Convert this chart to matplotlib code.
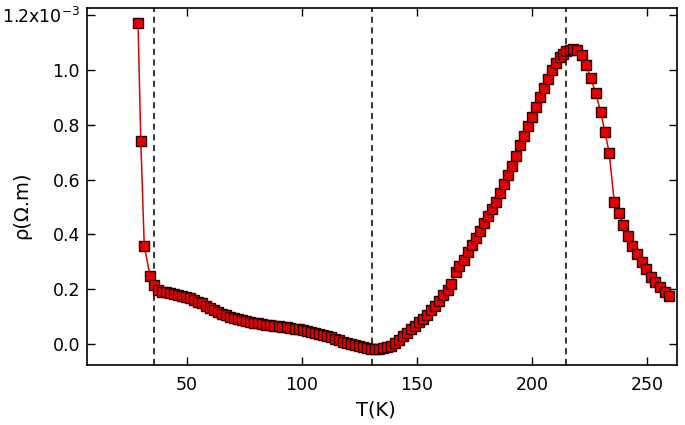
import matplotlib
matplotlib.use("Agg")
import matplotlib.pyplot as plt

plt.rcParams['font.family'] = ['DejaVu Sans']
plt.rcParams['mathtext.fontset'] = 'dejavusans'
plt.rcParams['mathtext.default'] = 'regular'

# Temperature (K)
T = [28.7, 29.9, 31.4, 33.9, 35.6,
     37.3, 39.0, 40.8, 42.5, 44.3, 46.0, 47.8, 49.5, 51.3, 53.0,
     54.8, 56.5, 58.3, 60.0, 61.8, 63.5, 65.3, 67.0, 68.8, 70.5,
     72.3, 74.0, 75.8, 77.5, 79.3, 81.0, 82.8, 84.5, 86.3, 88.0,
     89.8, 91.5, 93.3, 95.0, 96.8, 98.5, 100.3, 102.0, 103.8, 105.5,
     107.3, 109.0, 110.8, 112.5, 114.3, 116.0, 117.8, 119.5, 121.3, 123.0,
     124.8, 126.5, 128.3, 130.0, 131.8, 133.5, 135.3, 137.0, 138.8,
     140.5, 142.3, 144.0, 145.8, 147.5, 149.3, 151.0, 152.8, 154.5, 156.3,
     158.0, 159.8, 161.5, 163.3, 165.0, 166.8, 168.5, 170.3, 172.0, 173.8,
     175.5, 177.3, 179.0, 180.8, 182.5, 184.3, 186.0, 187.8, 189.5, 191.3,
     193.0, 194.8, 196.5, 198.3, 200.0, 201.8, 203.5, 205.3, 207.0, 208.8,
     210.5, 212.0, 213.5, 215.0, 216.5, 218.0, 219.5,
     221.6, 223.5, 225.7, 227.7, 229.9, 231.7, 233.6, 235.8, 237.8, 239.7,
     241.6, 243.6, 245.5, 247.7, 249.6, 251.6, 253.6, 255.7, 257.7, 259.6]

# Resistivity (x1e-3 Ohm.m)
rho = [1.173, 0.740, 0.359, 0.249, 0.215,
       0.197, 0.191, 0.188, 0.186, 0.183, 0.180, 0.176, 0.172, 0.167, 0.161,
       0.155, 0.148, 0.140, 0.132, 0.124, 0.117, 0.110, 0.104, 0.098, 0.094,
       0.092, 0.088, 0.084, 0.081, 0.078, 0.076, 0.073, 0.071, 0.069, 0.067,
       0.065, 0.063, 0.061, 0.059, 0.056, 0.054, 0.051, 0.048, 0.045, 0.041,
       0.037, 0.033, 0.028, 0.024, 0.019, 0.014, 0.009, 0.004, -0.001, -0.005,
       -0.009, -0.012, -0.015, -0.017, -0.018, -0.017, -0.015, -0.012, -0.007,
       0.003, 0.016, 0.028, 0.040, 0.054, 0.067, 0.079, 0.092, 0.107, 0.123,
       0.140, 0.158, 0.177, 0.197, 0.218, 0.262, 0.285, 0.308, 0.335, 0.360,
       0.388, 0.414, 0.440, 0.468, 0.493, 0.517, 0.552, 0.585, 0.617, 0.650,
       0.685, 0.725, 0.760, 0.795, 0.828, 0.865, 0.900, 0.936, 0.968, 1.000,
       1.027, 1.048, 1.060, 1.068, 1.073, 1.075, 1.073,
       1.055, 1.018, 0.970, 0.915, 0.848, 0.775, 0.698, 0.519, 0.479, 0.434,
       0.394, 0.358, 0.327, 0.298, 0.273, 0.246, 0.225, 0.207, 0.189, 0.176]

vlines_T = [35.5, 130.5, 215.0]
xticks = [50, 100, 150, 200, 250]
yticks = [0.0, 0.2, 0.4, 0.6, 0.8, 1.0, 1.2]
ytick_labels = ['0.0', '0.2', '0.4', '0.6', '0.8', '1.0', '1.2x10$^{-3}$']

fig = plt.figure(figsize=(6.85, 4.25), dpi=100)
ax = fig.add_axes([0.127, 0.141, 0.861, 0.840])

for xv in vlines_T:
    ax.axvline(xv, color='black', lw=1.1, ls=(0, (4, 3)), zorder=1)

ax.plot(T, rho, color='#e00000', lw=1.1, marker='s', markersize=7.6,
        markerfacecolor='#e60000', markeredgecolor='#2a0000', markeredgewidth=1.0,
        zorder=3, clip_on=True)

ax.set_xlim(6.5, 263)
ax.set_ylim(-0.077, 1.226)
ax.set_xticks(xticks)
ax.set_yticks(yticks)
ax.set_yticklabels(ytick_labels)

ax.tick_params(direction='in', length=6, width=1.0, top=True, right=True,
               labelsize=12.5, colors='black')
ax.tick_params(axis='x', pad=8)
ax.tick_params(axis='y', pad=5)
for sp in ax.spines.values():
    sp.set_linewidth(1.2)

ax.set_xlabel('T(K)', fontsize=14)
ax.set_ylabel('ρ(Ω.m)', fontsize=14)
ax.xaxis.set_label_coords(0.49, -0.1)
ax.yaxis.set_label_coords(-0.095, 0.448)

fig.savefig('out.png', dpi=100)
